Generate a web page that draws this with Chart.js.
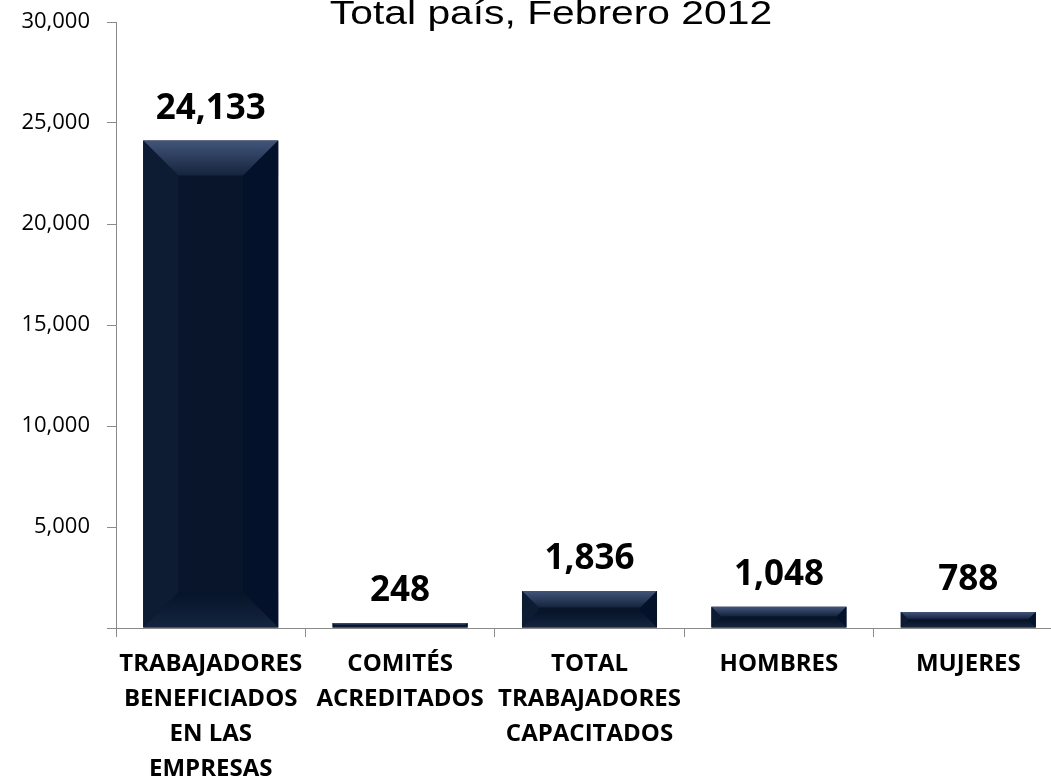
<!DOCTYPE html>
<html>
<head>
<meta charset="utf-8">
<script src="https://cdn.jsdelivr.net/npm/chart.js@4.4.1/dist/chart.umd.min.js"></script>
<style>
  html, body { margin: 0; padding: 0; overflow: hidden; background: #fff; }
</style>
</head>
<body>
<canvas id="chart" width="1080" height="778"></canvas>
<script>
const titleText = "Total país, Febrero 2012";
const categories = [
  ["TRABAJADORES", "BENEFICIADOS", "EN LAS", "EMPRESAS"],
  ["COMITÉS", "ACREDITADOS"],
  ["TOTAL", "TRABAJADORES", "CAPACITADOS"],
  ["HOMBRES"],
  ["MUJERES"]
];
const values = [24133, 248, 1836, 1048, 788];
const yMax = 30000;
const yStep = 5000;

const fmt = (v) => v.toLocaleString("en-US");

// title is stretched sideways and cut at the top in the original, so draw it by hand
const titlePlugin = {
  id: "stretchedTitle",
  afterDraw(chart) {
    const ctx = chart.ctx;
    ctx.save();
    ctx.font = "34px 'Liberation Sans', Arial, sans-serif";
    ctx.fillStyle = "#000";
    ctx.textAlign = "center";
    ctx.textBaseline = "alphabetic";
    ctx.translate(551, 24);
    ctx.scale(1.2, 1);
    ctx.fillText(titleText, 0, 0);
    ctx.restore();
  }
};

function face(ctx, pts, fill) {
  ctx.fillStyle = fill;
  ctx.beginPath();
  ctx.moveTo(pts[0][0], pts[0][1]);
  for (let k = 1; k < pts.length; k++) ctx.lineTo(pts[k][0], pts[k][1]);
  ctx.closePath();
  ctx.fill();
}

// bevel look on every bar + value labels on top
const bevelPlugin = {
  id: "bevel",
  afterDatasetsDraw(chart) {
    const ctx = chart.ctx;
    const meta = chart.getDatasetMeta(0);
    meta.data.forEach((bar, i) => {
      const p = bar.getProps(["x", "y", "base", "width"], true);
      const l = p.x - p.width / 2, r = p.x + p.width / 2;
      const t = p.y, b = p.base;
      const h = b - t;
      const e = Math.min(35, h * 0.45, p.width / 2);

      ctx.save();
      let g = ctx.createLinearGradient(0, t, 0, t + e);
      g.addColorStop(0, "#42557a");
      g.addColorStop(1, "#15243d");
      face(ctx, [[l, t], [r, t], [r - e, t + e], [l + e, t + e]], g);

      face(ctx, [[l, t], [l + e, t + e], [l + e, b - e], [l, b]], "#0d1b33");
      face(ctx, [[r, t], [r - e, t + e], [r - e, b - e], [r, b]], "#04112a");

      g = ctx.createLinearGradient(0, b - e, 0, b);
      g.addColorStop(0, "#061428");
      g.addColorStop(1, "#15253f");
      face(ctx, [[l, b], [r, b], [r - e, b - e], [l + e, b - e]], g);

      // value label
      ctx.font = "bold 35px 'Open Sans', sans-serif";
      ctx.fillStyle = "#000";
      ctx.textAlign = "center";
      ctx.textBaseline = "alphabetic";
      ctx.fillText(fmt(values[i]), p.x, t - 22);
      ctx.restore();
    });
  }
};

function draw() {
  const ctx = document.getElementById("chart").getContext("2d");
  new Chart(ctx, {
    type: "bar",
    data: {
      labels: categories,
      datasets: [{
        data: values,
        backgroundColor: "#08152b",
        borderWidth: 0,
        categoryPercentage: 1,
        barPercentage: 0.713
      }]
    },
    options: {
      responsive: false,
      animation: false,
      events: [],
      layout: { padding: { top: 22, right: 17, bottom: 0, left: 0 } },
      plugins: {
        legend: { display: false },
        title: { display: false },
        tooltip: { enabled: false }
      },
      scales: {
        x: {
          afterFit(scale) { scale.height = 150; },
          grid: {
            display: true,
            offset: true,
            drawOnChartArea: false,
            drawTicks: true,
            tickLength: 9,
            color: "#8a8a8a",
            lineWidth: 1
          },
          border: { display: true, color: "#8a8a8a", width: 1 },
          ticks: {
            color: "#000",
            padding: 10,
            maxRotation: 0,
            autoSkip: false,
            font: { family: "'Open Sans', sans-serif", size: 24, weight: "bold", lineHeight: 1.46 }
          }
        },
        y: {
          min: 0,
          max: yMax,
          afterFit(scale) {
            scale.width = 116;
            scale.paddingTop = 0;
            scale.paddingBottom = 0;
          },
          grid: {
            display: true,
            drawOnChartArea: false,
            drawTicks: true,
            tickLength: 9,
            color: "#8a8a8a",
            lineWidth: 1
          },
          border: { display: true, color: "#8a8a8a", width: 1 },
          ticks: {
            stepSize: yStep,
            padding: 17,
            color: "#000",
            font: { family: "'Open Sans', sans-serif", size: 22 },
            callback: (v) => (v === 0 ? "" : fmt(v))
          }
        }
      }
    },
    plugins: [bevelPlugin, titlePlugin]
  });
}

Promise.all([
  document.fonts.load("bold 35px 'Open Sans'"),
  document.fonts.load("bold 24px 'Open Sans'"),
  document.fonts.load("22px 'Open Sans'"),
  document.fonts.load("34px 'Liberation Sans'")
]).then(draw, draw);
</script>
</body>
</html>
